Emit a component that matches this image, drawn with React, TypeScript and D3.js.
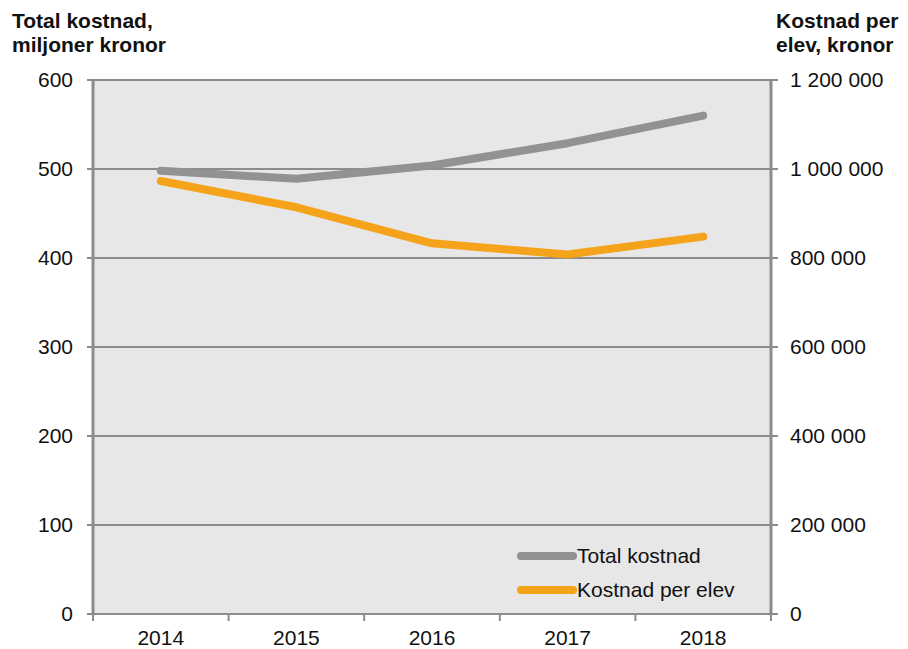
import { useEffect, useRef } from 'react';
import * as d3 from 'd3';

const years = ['2014', '2015', '2016', '2017', '2018'];
const totalKostnad = [498, 489, 504, 529, 560];
const kostnadPerElev = [973000, 914000, 833000, 808000, 848000];
const leftTicks = [0, 100, 200, 300, 400, 500, 600];
const rightTicks = [0, 200000, 400000, 600000, 800000, 1000000, 1200000];

const W = 908;
const H = 649;
const FONT = 'Liberation Sans, Arial, sans-serif';

const fmtSpace = (v: number) => d3.format(',')(v).replace(/,/g, ' ');

const App = () => {
  const svgRef = useRef<SVGSVGElement>(null);

  useEffect(() => {
    if (!svgRef.current) return;
    d3.select(svgRef.current).selectAll('*').remove();
    const svg = d3.select(svgRef.current);

    const margin = { top: 80, right: 137, bottom: 35, left: 93 };
    const innerW = W - margin.left - margin.right;
    const innerH = H - margin.top - margin.bottom;

    const x = d3.scaleBand().domain(years).range([0, innerW]).padding(0);
    const yL = d3.scaleLinear().domain([0, 600]).range([innerH, 0]);
    const yR = d3.scaleLinear().domain([0, 1200000]).range([innerH, 0]);

    const g = svg.append('g').attr('transform', `translate(${margin.left},${margin.top})`);

    g.append('rect')
      .attr('width', innerW)
      .attr('height', innerH)
      .attr('fill', '#e7e7e7');

    // Gridlines + left ticks
    g.selectAll('.grid')
      .data(leftTicks)
      .join('line')
      .attr('x1', -6)
      .attr('x2', innerW + 7)
      .attr('y1', d => yL(d))
      .attr('y2', d => yL(d))
      .attr('stroke', '#8c8c8c')
      .attr('stroke-width', 2);

    // Left labels
    g.selectAll('.lLabel')
      .data(leftTicks)
      .join('text')
      .attr('x', -20)
      .attr('y', d => yL(d))
      .attr('dy', '0.35em')
      .attr('text-anchor', 'end')
      .style('font-family', FONT)
      .style('font-size', '21px')
      .style('fill', '#111')
      .text(d => d);

    // Right labels
    g.selectAll('.rLabel')
      .data(rightTicks)
      .join('text')
      .attr('x', innerW + 19)
      .attr('y', d => yR(d))
      .attr('dy', '0.35em')
      .attr('text-anchor', 'start')
      .style('font-family', FONT)
      .style('font-size', '21px')
      .style('fill', '#111')
      .text(d => fmtSpace(d));

    // Axis lines
    g.append('line')
      .attr('x1', 0).attr('x2', 0).attr('y1', 0).attr('y2', innerH + 1)
      .attr('stroke', '#8c8c8c').attr('stroke-width', 3);
    g.append('line')
      .attr('x1', innerW).attr('x2', innerW).attr('y1', 0).attr('y2', innerH + 1)
      .attr('stroke', '#8c8c8c').attr('stroke-width', 3);

    // Category tick marks
    const bounds = years.map(y => x(y) || 0).concat([innerW]);
    g.selectAll('.xtick')
      .data(bounds)
      .join('line')
      .attr('x1', d => d)
      .attr('x2', d => d)
      .attr('y1', innerH)
      .attr('y2', innerH + 7)
      .attr('stroke', '#8c8c8c')
      .attr('stroke-width', 2);

    g.selectAll('.xLabel')
      .data(years)
      .join('text')
      .attr('x', d => (x(d) || 0) + x.bandwidth() / 2)
      .attr('y', innerH + 24)
      .attr('dy', '0.35em')
      .attr('text-anchor', 'middle')
      .style('font-family', FONT)
      .style('font-size', '21px')
      .style('fill', '#111')
      .text(d => d);

    const cx = (i: number) => (x(years[i]) || 0) + x.bandwidth() / 2;

    const lineL = d3.line<number>().x((_, i) => cx(i)).y(d => yL(d));
    const lineR = d3.line<number>().x((_, i) => cx(i)).y(d => yR(d));

    g.append('path')
      .datum(totalKostnad)
      .attr('fill', 'none')
      .attr('stroke', '#929292')
      .attr('stroke-width', 8)
      .attr('stroke-linecap', 'round')
      .attr('stroke-linejoin', 'round')
      .attr('d', lineL);

    g.append('path')
      .datum(kostnadPerElev)
      .attr('fill', 'none')
      .attr('stroke', '#f5a31a')
      .attr('stroke-width', 8)
      .attr('stroke-linecap', 'round')
      .attr('stroke-linejoin', 'round')
      .attr('d', lineR);

    // Legend
    const legend = [
      { label: 'Total kostnad', color: '#929292' },
      { label: 'Kostnad per elev', color: '#f5a31a' },
    ];
    const lg = svg.append('g').attr('transform', 'translate(521,556)');
    legend.forEach((d, i) => {
      lg.append('line')
        .attr('x1', 0).attr('x2', 52)
        .attr('y1', i * 34).attr('y2', i * 34)
        .attr('stroke', d.color)
        .attr('stroke-width', 8)
        .attr('stroke-linecap', 'round');
      lg.append('text')
        .attr('x', 56)
        .attr('y', i * 34)
        .attr('dy', '0.35em')
        .style('font-family', FONT)
        .style('font-size', '21px')
        .style('fill', '#111')
        .text(d.label);
    });

    // Axis titles
    const titles = [
      { x: 12, lines: ['Total kostnad,', 'miljoner kronor'] },
      { x: 776, lines: ['Kostnad per', 'elev, kronor'] },
    ];
    titles.forEach(t => {
      t.lines.forEach((l, i) => {
        svg.append('text')
          .attr('x', t.x)
          .attr('y', 28 + i * 24)
          .style('font-family', FONT)
          .style('font-size', '21px')
          .style('font-weight', 'bold')
          .style('fill', '#111')
          .text(l);
      });
    });
  }, []);

  return (
    <svg
      ref={svgRef}
      width={W}
      height={H}
      style={{ position: 'absolute', left: 0, top: 0, background: '#fff' }}
    />
  );
};

export default App;
